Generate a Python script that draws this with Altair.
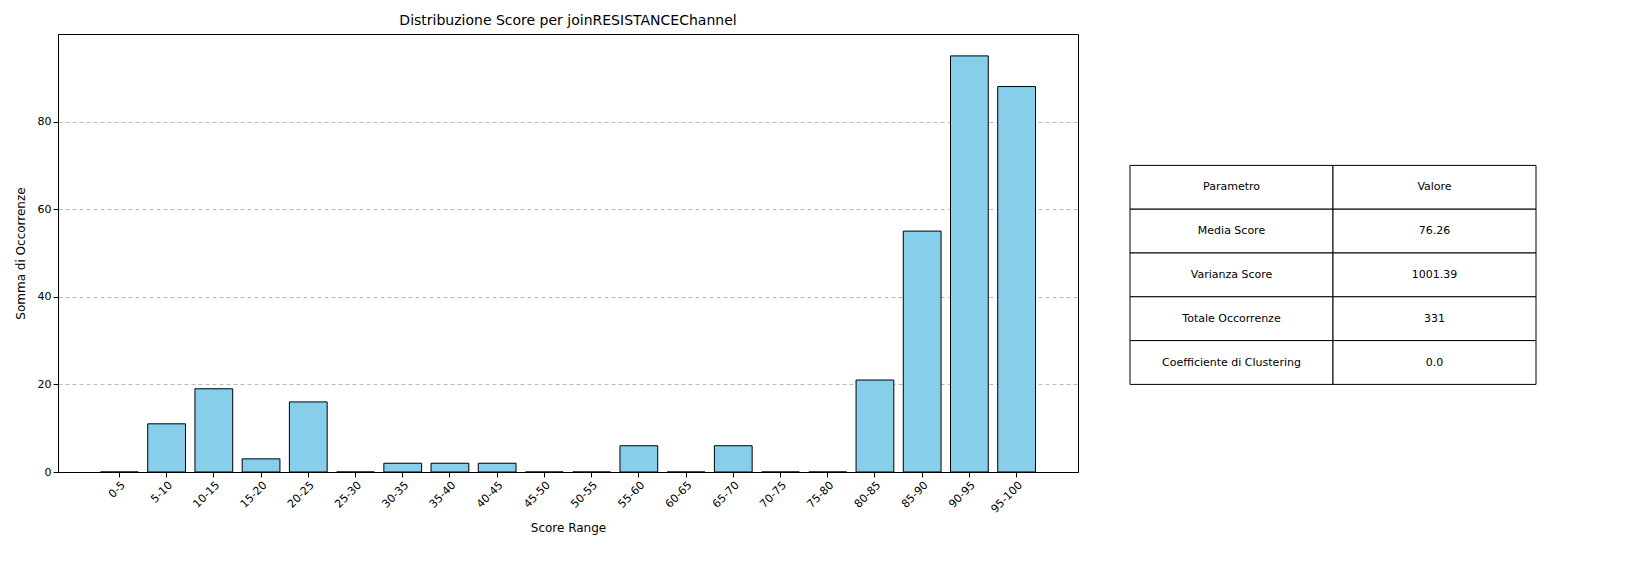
import altair as alt
import pandas as pd

ranges = ["0-5", "5-10", "10-15", "15-20", "20-25", "25-30", "30-35", "35-40", "40-45", "45-50",
          "50-55", "55-60", "60-65", "65-70", "70-75", "75-80", "80-85", "85-90", "90-95", "95-100"]
counts = [0, 11, 19, 3, 16, 0, 2, 2, 2, 0, 0, 6, 0, 6, 0, 0, 21, 55, 95, 88]

params = ["Parametro", "Media Score", "Varianza Score", "Totale Occorrenze", "Coefficiente di Clustering"]
values = ["Valore", "76.26", "1001.39", "331", "0.0"]

font = "DejaVu Sans"

bars_df = pd.DataFrame({"range": ranges, "count": counts})
bars = alt.Chart(bars_df).mark_bar(color="#87CEEB", stroke="black", strokeWidth=1).encode(
    x=alt.X("range:N", sort=ranges, title="Score Range",
            scale=alt.Scale(paddingInner=0.2, paddingOuter=0.9),
            axis=alt.Axis(labelAngle=315, labelAlign="right", labelBaseline="top", grid=False,
                          labelFont=font, titleFont=font, labelFontSize=11, titleFontSize=12,
                          titleFontWeight="normal", tickColor="black", domainColor="black",
                          labelColor="black", titlePadding=8)),
    y=alt.Y("count:Q", title="Somma di Occorrenze",
            scale=alt.Scale(domain=[0, 100], nice=False),
            axis=alt.Axis(values=[0, 20, 40, 60, 80], grid=True, gridDash=[4, 3], gridColor="#bbbbbb",
                          labelFont=font, titleFont=font, labelFontSize=11, titleFontSize=12,
                          titleFontWeight="normal", tickColor="black", domainColor="black",
                          labelColor="black", titlePadding=10)),
).properties(width=1020, height=438,
             title=alt.TitleParams("Distribuzione Score per joinRESISTANCEChannel", font=font,
                                   fontSize=14, fontWeight="normal", offset=6))

rows = []
for i, (p, v) in enumerate(zip(params, values)):
    rows.append({"col": 0, "text": p, "y0": 3 + i, "y1": 4 + i})
    rows.append({"col": 1, "text": v, "y0": 3 + i, "y1": 4 + i})
tdf = pd.DataFrame(rows)
tdf["x1"] = tdf["col"] + 1
tdf["xm"] = tdf["col"] + 0.5
tdf["ym"] = tdf["y0"] + 0.5

xs = alt.Scale(domain=[0, 2], nice=False)
ys = alt.Scale(domain=[0, 10], reverse=True, nice=False)
cells = alt.Chart(tdf).mark_rect(fill="white", stroke="black", strokeWidth=1).encode(
    x=alt.X("col:Q", scale=xs, axis=None), x2="x1:Q",
    y=alt.Y("y0:Q", scale=ys, axis=None), y2="y1:Q")
texts = alt.Chart(tdf).mark_text(font=font, fontSize=11, color="black", fontWeight="normal").encode(
    x=alt.X("xm:Q", scale=xs, axis=None), y=alt.Y("ym:Q", scale=ys, axis=None), text="text:N")
table = (cells + texts).properties(width=406, height=438, view=alt.ViewConfig(stroke="transparent"))

chart = alt.hconcat(bars, table, spacing=50).configure_view(stroke="black")
chart.save("out.html", embed_options={"renderer": "svg", "actions": False})
